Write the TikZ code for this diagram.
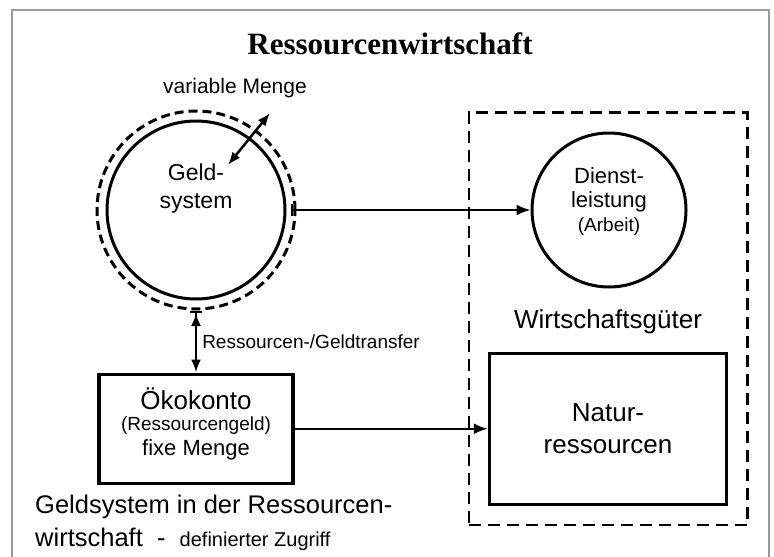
\documentclass[tikz,border=0pt]{standalone}
\usepackage{fontspec}
\setmainfont{Liberation Serif}
\setsansfont{Liberation Sans}
\usepackage{tikz}
\usetikzlibrary{arrows.meta}
\usetikzlibrary{calc,fit,positioning}

\begin{document}
\begin{tikzpicture}[
    x=1pt, y=-1pt,
    title/.style={font=\fontsize{31}{36}\selectfont\rmfamily\bfseries},
    lbl/.style={font=\fontsize{26}{32}\selectfont\sffamily, align=center, inner sep=0pt},
    small/.style={font=\fontsize{19}{23}\selectfont\sffamily, inner sep=0pt},
    circ/.style={circle, draw, line width=3pt, inner sep=0pt},
    ring/.style={circle, draw, dash pattern=on 9pt off 5pt, line width=3pt, inner sep=0pt, minimum size=198pt},
    box/.style={rectangle, draw, line width=3.5pt, inner sep=0pt},
    zone/.style={rectangle, draw, dash pattern=on 12pt off 7pt, line width=2.5pt, inner sep=19pt},
    arr/.style={-{Latex[length=14pt,width=11pt]}, line width=2pt},
    dblarr/.style={{Latex[length=13pt,width=10pt]}-{Latex[length=13pt,width=10pt]}, line width=2.5pt}
  ]
  \useasboundingbox (0,0) rectangle (774,557);
  \draw[black!40, line width=2pt] (12,10) rectangle (769,580);

  \node (head) [title] at (390,44) {Ressourcenwirtschaft};

  % Geldsystem
  \node (geld) [circ, minimum size=178pt,
    label={[lbl, font=\fontsize{23}{28}\selectfont\sffamily, yshift=21pt]center:{Geld-\\system}}] at (196,210) {};
  \node (ring) [ring] at (geld) {};
  \coordinate (vin) at ($(geld)+(32,-45)$);
  \coordinate (vout) at ($(geld)+(74,-97)$);
  \node (menge) [small, font=\fontsize{21}{24}\selectfont\sffamily] at (235,88) {variable Menge};

  % Wirtschaftsgueter
  \node (dienst) [circ, minimum size=154pt, right=234pt of ring,
    label={[lbl, font=\fontsize{22}{24}\selectfont\sffamily, yshift=9pt]center:{Dienst-\\leistung\\{\fontsize{19}{22}\selectfont (Arbeit)}}}] {};

  \node (oeko) [box, minimum width=194pt, minimum height=109pt, below=62pt of ring,
    label={[lbl, yshift=5pt]center:{Ökokonto\\[-11pt]{\fontsize{19}{22}\selectfont (Ressourcengeld)}\\[-7pt]{\fontsize{22}{24}\selectfont fixe Menge}}}] {};
  \node (natur) [box, lbl, minimum width=237pt, minimum height=151pt, right=193pt of oeko] {Natur-\\ressourcen};
  \node (gueter) [lbl, above=17pt of natur] {Wirtschaftsgüter};
  \node (zone) [zone, fit=(dienst)(natur)] {};

  \node (note) [lbl, font=\fontsize{25.5}{33}\selectfont\sffamily, align=left, anchor=north west] at (35,495)
    {Geldsystem in der Ressourcen-\\wirtschaft~~-~~{\fontsize{20}{24}\selectfont definierter Zugriff}};

  \draw[dblarr] (vin) -- (vout);
  \draw[{Bar[width=12pt]}-{Latex[length=14pt,width=11pt]}, line width=2pt] ([xshift=-6pt]ring.east) -- (dienst);
  \draw[{Bar[width=12pt] Latex[length=13pt,width=10pt]}-{Latex[length=13pt,width=10pt]}, line width=2.5pt]
    (ring) -- node[small, right=5pt] {Ressourcen-/Geldtransfer} (oeko);
  \draw[arr] (oeko) -- (natur);
\end{tikzpicture}
\end{document}
